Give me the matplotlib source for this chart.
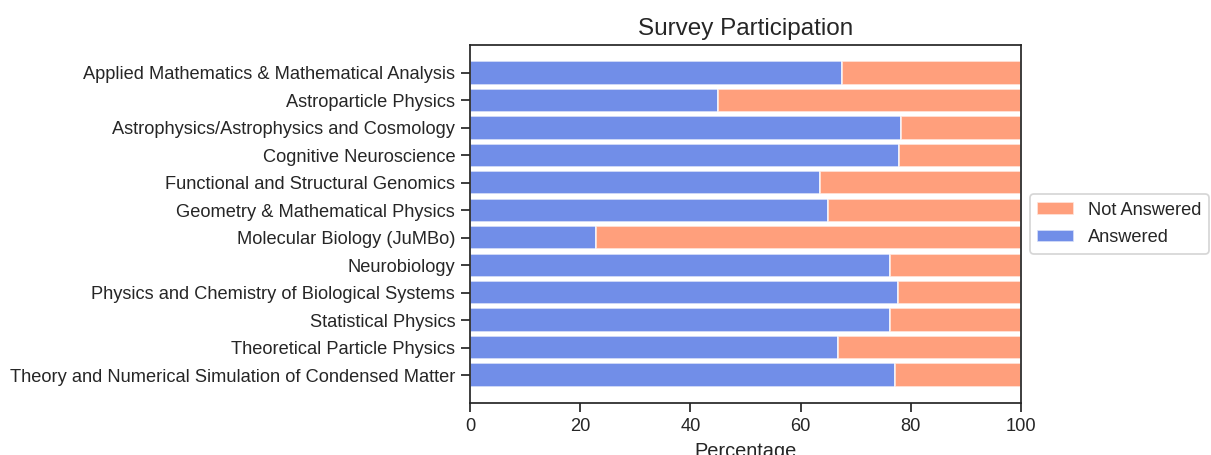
import numpy as np
import matplotlib
matplotlib.use("Agg")
import matplotlib.pyplot as plt
import seaborn as sns

categories = [
    "Applied Mathematics & Mathematical Analysis",
    "Astroparticle Physics",
    "Astrophysics/Astrophysics and Cosmology",
    "Cognitive Neuroscience",
    "Functional and Structural Genomics",
    "Geometry & Mathematical Physics",
    "Molecular Biology (JuMBo)",
    "Neurobiology",
    "Physics and Chemistry of Biological Systems",
    "Statistical Physics",
    "Theoretical Particle Physics",
    "Theory and Numerical Simulation of Condensed Matter",
]
answered = np.array([67.5, 45.0, 78.2, 77.9, 63.6, 64.9, 22.9, 76.2, 77.7, 76.2, 66.7, 77.2])
not_answered = 100 - answered

sns.set_style("ticks")
plt.rcParams['font.family'] = ['Liberation Sans', 'DejaVu Sans']

dpi = 125
fig = plt.figure(figsize=(1211 / dpi, 455 / dpi), dpi=dpi)
ax = fig.add_axes([470 / 1211, 1 - 403 / 455, 551 / 1211, 358 / 455])

y = np.arange(len(categories))
ax.barh(y, answered, height=0.85, color="royalblue", alpha=0.75,
        edgecolor="white", linewidth=1, label="Answered")
ax.barh(y, not_answered, left=answered, height=0.85, color="coral", alpha=0.75,
        edgecolor="white", linewidth=1, label="Not Answered")

ax.set_yticks(y)
ax.set_yticklabels(categories, fontsize=10.5)
ax.invert_yaxis()
ax.set_xlim(0, 100)
ax.tick_params(axis='both', labelsize=10.5, length=5, width=1)
for s in ax.spines.values():
    s.set_linewidth(1)
ax.set_xlabel("Percentage", fontsize=11.5)
ax.set_title("Survey Participation", fontsize=14)

handles, labels = ax.get_legend_handles_labels()
ax.legend(handles[::-1], labels[::-1], loc="center left", bbox_to_anchor=(1.0, 0.5),
          fontsize=10.5, labelspacing=0.6)

fig.savefig("out.png", dpi=dpi)
